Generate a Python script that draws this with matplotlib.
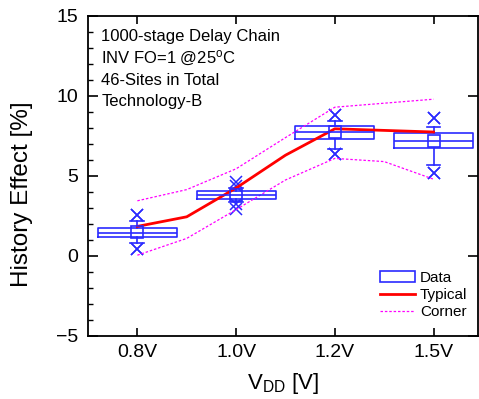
import matplotlib
matplotlib.use('Agg')
import matplotlib.pyplot as plt
from matplotlib.lines import Line2D
from matplotlib.patches import Rectangle

plt.rcParams['font.family'] = ['Liberation Sans', 'DejaVu Sans']
plt.rcParams['mathtext.fontset'] = 'custom'
plt.rcParams['mathtext.rm'] = 'Liberation Sans'
plt.rcParams['mathtext.it'] = 'Liberation Sans:italic'

# box chart data per supply voltage
labels = ['0.8V', '1.0V', '1.2V', '1.5V']
positions = [1, 2, 3, 4]
q1 = [1.17, 3.54, 7.31, 6.73]
q3 = [1.73, 4.04, 8.14, 7.71]
med = [1.46, 3.79, 7.76, 7.21]
mean = [1.48, 3.82, 7.73, 7.16]
whis_lo = [0.8, 3.4, 6.7, 5.7]
whis_hi = [2.2, 4.25, 8.45, 8.08]
mn = [0.42, 2.95, 6.38, 5.2]
mx = [2.55, 4.6, 8.8, 8.62]
p01 = [0.42, 3.28, 6.38, 5.2]
p99 = [2.55, 4.38, 8.8, 8.62]

# typical and corner curves
typ_x = [1, 1.5, 2, 2.5, 3, 4]
typ_y = [1.85, 2.45, 4.25, 6.3, 7.95, 7.75]
up_x = [1, 1.5, 2, 2.5, 3, 4]
up_y = [3.45, 4.15, 5.45, 7.4, 9.3, 9.8]
lo_x = [1, 1.5, 2, 2.5, 3, 3.5, 4]
lo_y = [0.05, 1.1, 2.9, 4.75, 6.1, 5.9, 4.8]

blue = '#2a2aff'
fig = plt.figure(figsize=(4.79, 3.99), dpi=100)
ax = fig.add_axes([88/479, 1-336/399, 390/479, 320/399])

stats = []
for i in range(4):
    stats.append(dict(med=med[i], q1=q1[i], q3=q3[i], whislo=whis_lo[i], whishi=whis_hi[i],
                      mean=mean[i], fliers=[mn[i], p01[i], p99[i], mx[i]]))
ax.bxp(stats, positions=positions, widths=0.8, showmeans=True, showfliers=True,
       boxprops=dict(color=blue, lw=1.2),
       medianprops=dict(color=blue, lw=1.2),
       whiskerprops=dict(color=blue, lw=1.2),
       capprops=dict(color=blue, lw=1.2),
       capwidths=0.14,
       meanprops=dict(marker='s', markerfacecolor='none', markeredgecolor=blue, markersize=8, mew=1.2),
       flierprops=dict(marker='x', markeredgecolor=blue, markersize=9, mew=1.1))

ax.plot(typ_x, typ_y, color='#ff0000', lw=2)
ax.plot(up_x, up_y, color='#ff00ff', lw=0.9, dashes=(2, 1.5))
ax.plot(lo_x, lo_y, color='#ff00ff', lw=0.9, dashes=(2, 1.5))

ax.set_xlim(0.5, 4.45)
ax.set_ylim(-5, 15)
ax.set_xticks(positions)
ax.set_xticklabels(labels, fontsize=14)
ax.set_yticks([-5, 0, 5, 10, 15])
ax.set_yticks(range(-5, 16), minor=True)
ax.tick_params(axis='y', which='major', labelsize=14, direction='in', length=7, width=1.2, right=True, pad=7)
ax.tick_params(axis='y', which='minor', direction='in', length=3.5, width=1, right=False)
ax.tick_params(axis='x', which='major', direction='in', length=6, width=1.2, top=True, pad=6)
for s in ax.spines.values():
    s.set_linewidth(1.3)

ax.set_ylabel('History Effect [%]', fontsize=17.5)
ax.yaxis.set_label_coords(-0.14, 0.444)
ax.set_xlabel(r'V$_{\mathrm{DD}}$ [V]', fontsize=16, va='top')
ax.xaxis.set_label_coords(0.5, -0.108)

notes = ['1000-stage Delay Chain', r'INV FO=1 @25$^{\mathrm{o}}$C', '46-Sites in Total', 'Technology-B']
note_y = [13.45, 12.05, 10.7, 9.38]
for t, y in zip(notes, note_y):
    ax.text(0.633, y, t, fontsize=12, va='baseline', ha='left')

handles = [Rectangle((0, 0), 1, 1, facecolor='none', edgecolor=blue, lw=1.2),
           Line2D([], [], color='#ff0000', lw=2),
           Line2D([], [], color='#ff00ff', lw=0.9, dashes=(2, 1.5))]
ax.legend(handles, ['Data', 'Typical', 'Corner'], loc='lower right', frameon=False, fontsize=11,
          handlelength=2.3, handletextpad=0.3, labelspacing=0.2, borderaxespad=0.3,
          bbox_to_anchor=(1.0, 0.02))

fig.savefig('out.png', dpi=100)
